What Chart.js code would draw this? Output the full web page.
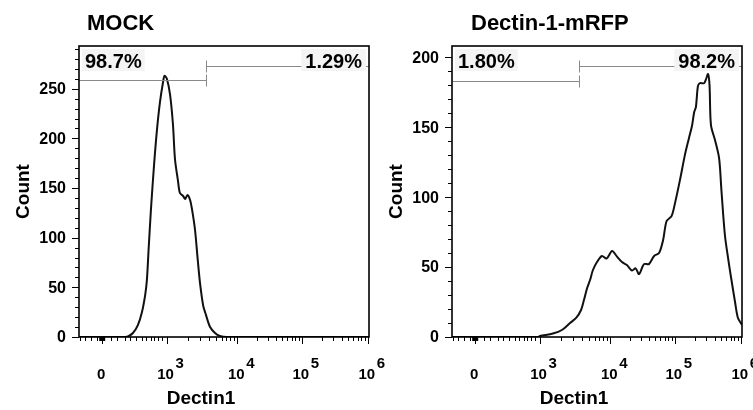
<!DOCTYPE html>
<html>
<head>
<meta charset="utf-8">
<script src="https://cdn.jsdelivr.net/npm/chart.js@4.4.1/dist/chart.umd.min.js"></script>
<style>
  body { margin: 0; background: #fff; }
  #wrap { position: relative; width: 753px; height: 410px; overflow: hidden; }
  canvas { position: absolute; top: 0; }
</style>
</head>
<body>
<div id="wrap">
  <canvas id="mock" width="392" height="410" style="left:0px"></canvas>
  <canvas id="dectin" width="392" height="410" style="left:373px"></canvas>
</div>
<script>
// x axis is in display channels (0-1000) of the biexponential Dectin1 axis
const xTickValues = [80, 302, 546, 768, 996];
const xTickBase = ['0', '10', '10', '10', '10'];
const xTickExp = ['', '3', '4', '5', '6'];
const xMinorTicks = [3, 21, 40, 61, 110, 132, 159, 176, 197, 216, 231, 248, 260, 274, 287];

// MOCK histogram
const mockChannel = [0, 159, 169, 186, 203, 217, 228, 234, 240, 248, 259, 269, 279, 290, 295, 303, 314, 324, 331, 341, 348, 359, 366, 374, 383, 390, 400, 410, 417, 428, 438, 452, 469, 486, 510, 1000];
const mockCount   = [0, 0, 0.5, 4, 12, 25, 42, 57, 88, 128, 174, 209, 236, 257, 263, 260, 244, 214, 179, 158, 145, 142, 139, 143, 138, 128, 108, 76, 55, 32, 22, 10, 4, 1, 0, 0];
const mockYTicks = [0, 50, 100, 150, 200, 250];
const mockGate = [438, 259, 273];      // split channel, left gate count, right gate count
const mockPct = ['98.7%', '1.29%'];

// Dectin-1-mRFP histogram
const dectinChannel = [0, 297, 303, 348, 379, 407, 428, 445, 455, 466, 476, 486, 500, 517, 533, 552, 569, 586, 603, 621, 633, 645, 662, 679, 697, 714, 728, 740, 757, 769, 786, 803, 817, 828, 835, 841, 848, 855, 869, 876, 883, 888, 893, 907, 921, 929, 941, 952, 962, 976, 986, 1000];
const dectinCount   = [0, 0, 0.7, 2.5, 5, 10, 13.6, 19.3, 26.4, 35, 40.7, 47.9, 53.6, 57.9, 56.1, 61.4, 57.5, 53.6, 51.4, 47.5, 49.1, 45, 52.1, 52.1, 57.9, 60, 69.3, 82.9, 86.4, 95.7, 112.1, 130, 142.1, 151.4, 160.7, 164.3, 179.3, 181.4, 181.4, 184.3, 187.9, 180, 151.4, 140.7, 127.9, 105, 72.9, 56.4, 42.9, 25, 13.6, 8.6];
const dectinYTicks = [0, 50, 100, 150, 200];
const dectinGate = [438, 183, 193.5];
const dectinPct = ['1.80%', '98.2%'];

const FONT = '"Liberation Sans", Arial, sans-serif';

const flowAxes = {
  id: 'flowAxes',
  afterDraw(chart, args, opts) {
    const ctx = chart.ctx;
    const a = chart.chartArea;
    const xs = chart.scales.x;
    const ys = chart.scales.y;
    ctx.save();
    ctx.strokeStyle = '#000';
    ctx.fillStyle = '#000';

    // gates
    const g = opts.gate;
    const sx = Math.round(xs.getPixelForValue(g[0])) + 0.5;
    const yl = Math.round(ys.getPixelForValue(g[1])) + 0.5;
    const yh = Math.round(ys.getPixelForValue(g[2])) + 0.5;
    ctx.strokeStyle = '#8a8a8a';
    ctx.lineWidth = 1;
    ctx.beginPath();
    ctx.moveTo(a.left, yl); ctx.lineTo(sx, yl);
    ctx.moveTo(sx, yl - 6); ctx.lineTo(sx, yl + 6);
    ctx.moveTo(sx, yh); ctx.lineTo(a.right, yh);
    ctx.moveTo(sx, yh - 6); ctx.lineTo(sx, yh + 6);
    ctx.stroke();

    // percent labels
    ctx.font = 'bold 20px ' + FONT;
    ctx.textBaseline = 'alphabetic';
    let w = ctx.measureText(opts.pct[0]).width;
    ctx.fillStyle = '#f4f4f4';
    ctx.fillRect(a.left + 3, a.top + 3, w + 6, 22);
    ctx.fillStyle = '#000';
    ctx.textAlign = 'left';
    ctx.fillText(opts.pct[0], a.left + 6, a.top + 22);
    w = ctx.measureText(opts.pct[1]).width;
    ctx.fillStyle = '#f4f4f4';
    ctx.fillRect(a.right - w - 11, a.top + 3, w + 8, 22);
    ctx.fillStyle = '#000';
    ctx.textAlign = 'right';
    ctx.fillText(opts.pct[1], a.right - 7, a.top + 22);

    // box
    ctx.strokeStyle = '#000';
    ctx.lineWidth = 1.6;
    ctx.strokeRect(a.left, a.top, a.right - a.left, a.bottom - a.top);

    // y ticks
    ctx.lineWidth = 1;
    ctx.beginPath();
    for (let v = 0; v <= ys.max; v += 10) {
      const y = Math.round(ys.getPixelForValue(v)) + 0.5;
      const len = v % 50 === 0 ? 7 : 4;
      ctx.moveTo(a.left - len, y); ctx.lineTo(a.left, y);
    }
    // x ticks
    xTickValues.forEach(v => {
      const x = Math.round(xs.getPixelForValue(v)) + 0.5;
      ctx.moveTo(x, a.bottom); ctx.lineTo(x, a.bottom + 7);
    });
    const minors = xMinorTicks.slice();
    for (let d = 1; d < 4; d++) {
      const lo = xTickValues[d], hi = xTickValues[d + 1];
      for (let k = 2; k <= 9; k++) minors.push(lo + (hi - lo) * Math.log10(k));
    }
    minors.forEach(v => {
      const x = Math.round(xs.getPixelForValue(v)) + 0.5;
      ctx.moveTo(x, a.bottom); ctx.lineTo(x, a.bottom + 4);
    });
    ctx.stroke();
    const zx = xs.getPixelForValue(xTickValues[0]);
    ctx.fillRect(zx - 3, a.bottom, 6, 4);

    // y labels
    ctx.font = 'bold 16px ' + FONT;
    ctx.textAlign = 'right';
    ctx.textBaseline = 'middle';
    opts.yTicks.forEach(v => {
      ctx.fillText(String(v), a.left - 13, ys.getPixelForValue(v) + 1);
    });

    // x labels
    ctx.font = 'bold 15px ' + FONT;
    ctx.textBaseline = 'alphabetic';
    xTickValues.forEach((v, i) => {
      const x = xs.getPixelForValue(v);
      ctx.textAlign = 'center';
      ctx.fillText(xTickBase[i], x - 1, a.bottom + 42);
      if (xTickExp[i]) {
        ctx.textAlign = 'left';
        ctx.fillText(xTickExp[i], x + 9, a.bottom + 31);
      }
    });

    // axis titles
    ctx.font = 'bold 19px ' + FONT;
    ctx.textAlign = 'center';
    ctx.fillText('Dectin1', a.left + 122, a.bottom + 67);
    ctx.save();
    ctx.translate(29, (a.top + a.bottom) / 2);
    ctx.rotate(-Math.PI / 2);
    ctx.fillText('Count', 0, 0);
    ctx.restore();

    // panel title
    ctx.font = 'bold 22px ' + FONT;
    ctx.textAlign = 'left';
    ctx.fillText(opts.title, a.left + opts.titleDx, 30);
    ctx.restore();
  }
};

function makeChart(id, channel, count, yMax, yTicks, gate, pct, title, titleDx) {
  const points = channel.map((c, i) => ({ x: c, y: count[i] }));
  return new Chart(document.getElementById(id), {
    type: 'line',
    data: {
      datasets: [{
        data: points,
        borderColor: '#111',
        borderWidth: 2,
        pointRadius: 0,
        tension: 0.3,
        fill: false
      }]
    },
    options: {
      responsive: false,
      animation: false,
      layout: { padding: { left: 0, top: 46, right: 23, bottom: 0 } },
      plugins: {
        legend: { display: false },
        tooltip: { enabled: false },
        flowAxes: { gate: gate, pct: pct, yTicks: yTicks, title: title, titleDx: titleDx }
      },
      scales: {
        x: {
          type: 'linear', min: 0, max: 1000,
          grid: { display: false }, border: { display: false },
          ticks: { display: false },
          afterFit: s => { s.height = 73; }
        },
        y: {
          min: 0, max: yMax,
          grid: { display: false }, border: { display: false },
          ticks: { display: false },
          afterFit: s => { s.width = 79; }
        }
      }
    },
    plugins: [flowAxes]
  });
}

makeChart('mock', mockChannel, mockCount, 293, mockYTicks, mockGate, mockPct, 'MOCK', 8);
makeChart('dectin', dectinChannel, dectinCount, 208, dectinYTicks, dectinGate, dectinPct, 'Dectin-1-mRFP', 19);
</script>
</body>
</html>
